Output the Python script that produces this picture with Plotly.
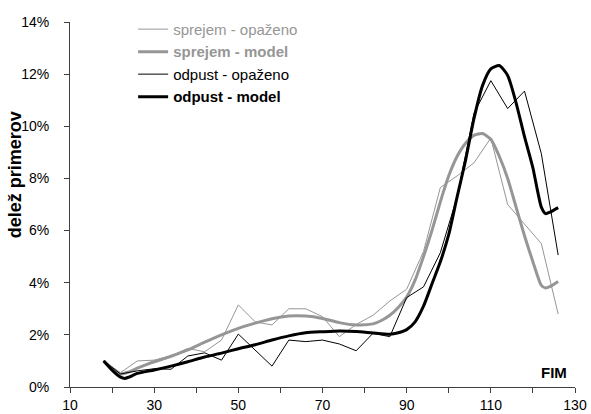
import plotly.graph_objects as go

# observed data (FIM score, share in %)
obs_x = [18, 22, 26, 30, 34, 38, 42, 46, 50, 54, 58, 62, 66, 70, 74, 78, 82, 86,
         90, 94, 98, 102, 106, 110, 114, 118, 122, 126]
sprejem_obs = [1.0, 0.55, 1.0, 1.03, 1.19, 1.48, 1.35, 1.8, 3.15, 2.5, 2.38, 3.0,
               3.0, 2.7, 1.93, 2.4, 2.75, 3.3, 3.75, 5.2, 7.65, 8.1, 8.6, 9.55,
               7.0, 6.25, 5.5, 2.8]
odpust_obs = [1.0, 0.5, 0.62, 0.7, 0.68, 1.19, 1.31, 1.03, 2.03, 1.42, 0.8, 1.8,
              1.74, 1.8, 1.65, 1.39, 2.06, 1.93, 3.43, 3.84, 5.15, 7.3, 10.5,
              11.75, 10.68, 11.35, 8.95, 5.06]

# model curves
sprejem_mod_x = [18, 20, 22, 24, 26, 28, 30, 34, 38, 42, 46, 50, 54, 58, 62, 66,
                 70, 74, 78, 82, 84, 86, 88, 90, 92, 94, 96, 98, 100, 102, 104,
                 106, 108, 110, 112, 114, 116, 118, 120, 122, 123, 124, 126]
sprejem_mod = [1.0, 0.72, 0.5, 0.58, 0.72, 0.85, 0.97, 1.18, 1.42, 1.72, 2.0, 2.25,
               2.45, 2.62, 2.72, 2.72, 2.63, 2.47, 2.38, 2.42, 2.55, 2.75, 3.05,
               3.45, 4.1, 5.0, 6.0, 7.1, 8.1, 8.85, 9.35, 9.65, 9.72, 9.5, 8.85,
               8.0, 6.9, 5.8, 4.8, 3.9, 3.8, 3.85, 4.05]
odpust_mod_x = [18, 20, 22, 23, 24, 26, 30, 34, 38, 42, 46, 50, 54, 58, 62, 66, 70,
                74, 78, 82, 86, 88, 90, 92, 94, 96, 98, 100, 102, 104, 106, 108,
                110, 112, 114, 116, 118, 120, 121, 122, 123, 124, 126]
odpust_mod = [1.0, 0.65, 0.38, 0.33, 0.38, 0.52, 0.65, 0.8, 0.97, 1.15, 1.3, 1.47,
              1.62, 1.8, 1.96, 2.08, 2.12, 2.15, 2.13, 2.07, 2.02, 2.08, 2.2, 2.5,
              3.1, 3.95, 4.8, 5.85, 7.3, 8.7, 10.3, 11.55, 12.2, 12.33, 11.95,
              10.9, 9.6, 8.4, 7.6, 6.9, 6.65, 6.7, 6.88]

x_ticks = [10, 20, 30, 40, 50, 60, 70, 80, 90, 100, 110, 120, 130]
x_labels = ["10", "", "30", "", "50", "", "70", "", "90", "", "110", "", "130"]
y_ticks = [0, 2, 4, 6, 8, 10, 12, 14]
y_labels = ["0%", "2%", "4%", "6%", "8%", "10%", "12%", "14%"]

GREY = "#969696"
FONT = "Liberation Sans, Arial, sans-serif"

fig = go.Figure()
fig.add_trace(go.Scatter(x=obs_x, y=sprejem_obs, mode="lines",
                         line=dict(color=GREY, width=1),
                         name=f"<span style='color:{GREY}'>sprejem - opaženo</span>"))
fig.add_trace(go.Scatter(x=sprejem_mod_x, y=sprejem_mod, mode="lines",
                         line=dict(color=GREY, width=3, shape="spline", smoothing=0.6),
                         name=f"<span style='color:{GREY}'><b>sprejem - model</b></span>"))
fig.add_trace(go.Scatter(x=obs_x, y=odpust_obs, mode="lines",
                         line=dict(color="black", width=1),
                         name="odpust - opaženo"))
fig.add_trace(go.Scatter(x=odpust_mod_x, y=odpust_mod, mode="lines",
                         line=dict(color="black", width=3, shape="spline", smoothing=0.6),
                         name="<b>odpust - model</b>"))

fig.update_layout(
    width=591, height=414,
    margin=dict(l=70, r=16, t=22, b=27),
    paper_bgcolor="white", plot_bgcolor="white",
    font=dict(family=FONT, size=14, color="black"),
    showlegend=True,
    legend=dict(x=0.125, y=1.025, xanchor="left", yanchor="top",
                bgcolor="rgba(0,0,0,0)", font=dict(size=15),
                tracegroupgap=0, itemwidth=30),
    xaxis=dict(range=[10, 130], tickvals=x_ticks, ticktext=x_labels,
               showgrid=False, zeroline=False, showline=True, automargin=False,
               linecolor="#404040", linewidth=1, ticks="outside",
               ticklen=5, tickcolor="#404040", tickfont=dict(size=14),
               ticklabelstandoff=0),
    yaxis=dict(range=[0, 14], tickvals=y_ticks, ticktext=y_labels,
               showgrid=False, zeroline=False, showline=True, automargin=False,
               linecolor="#404040", linewidth=1, ticks="outside",
               ticklen=5, tickcolor="#404040", tickfont=dict(size=14),
               ticklabelstandoff=12),
    annotations=[
        dict(text="<b>FIM</b>", x=130, y=0, xref="x", yref="y",
             xanchor="right", yanchor="bottom", yshift=4, xshift=-6,
             showarrow=False, font=dict(size=15)),
        dict(text="<b>delež primerov</b>", x=0, y=0.58, xref="paper", yref="paper",
             xanchor="left", yanchor="middle", xshift=-67, textangle=-90,
             showarrow=False, font=dict(size=18)),
    ],
)

fig.write_html("out.html", config={"displayModeBar": False},
               post_script="document.body.style.margin='0';document.body.style.overflow='hidden';")
